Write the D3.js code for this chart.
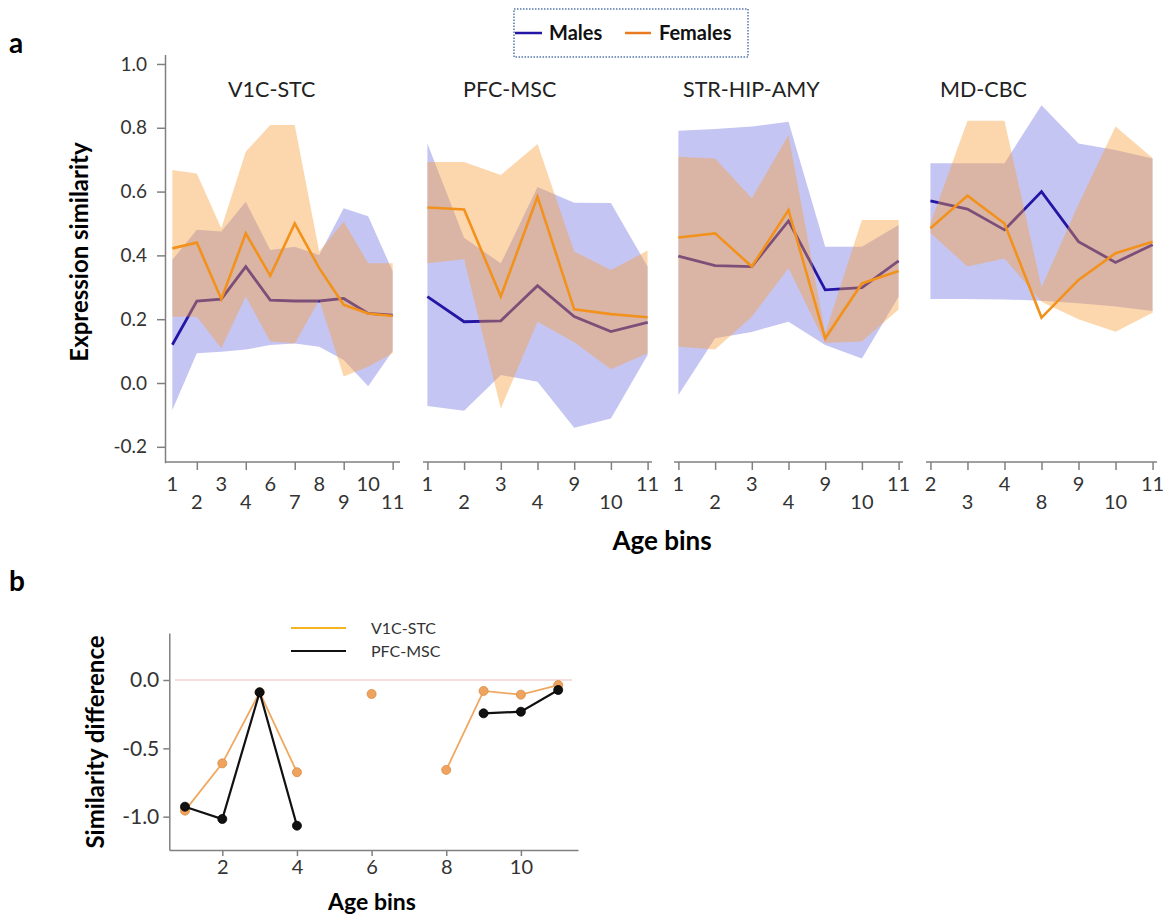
<!DOCTYPE html>
<meta charset="utf-8">
<html>
<head>
  <title>Expression similarity by age bins</title>
  <script src="https://cdn.jsdelivr.net/npm/d3@7"></script>
  <style>
    body { margin: 0; background: #fff; }
    text { font-family: Lato, "Open Sans", sans-serif; }
    .tick text { font-size: 19px; fill: #333; }
    .axis path, .axis line { stroke: #808080; stroke-width: 1.5px; }
  </style>
</head>
<body>
  <svg id="svg" width="1170" height="915"></svg>

  <script>
    // ---- panel a data ----
    var panelNames = ["V1C-STC", "PFC-MSC", "STR-HIP-AMY", "MD-CBC"];

    var binsV1C = [1, 2, 3, 4, 6, 7, 8, 9, 10, 11];
    var maleV1C = [0.12, 0.257, 0.263, 0.365, 0.26, 0.257, 0.257, 0.265, 0.218, 0.213];
    var maleLoV1C = [-0.085, 0.093, 0.098, 0.105, 0.119, 0.124, 0.114, 0.072, -0.01, 0.10];
    var maleHiV1C = [0.386, 0.48, 0.475, 0.568, 0.417, 0.427, 0.401, 0.548, 0.523, 0.35];
    var femaleV1C = [0.422, 0.44, 0.263, 0.469, 0.336, 0.50, 0.36, 0.245, 0.218, 0.21];
    var femaleLoV1C = [0.208, 0.208, 0.109, 0.271, 0.13, 0.124, 0.26, 0.02, 0.051, 0.093];
    var femaleHiV1C = [0.668, 0.657, 0.485, 0.725, 0.809, 0.809, 0.412, 0.506, 0.375, 0.375];

    var binsPFC = [1, 2, 3, 4, 9, 10, 11];
    var malePFC = [0.271, 0.192, 0.195, 0.305, 0.208, 0.161, 0.19];
    var maleLoPFC = [-0.072, -0.087, 0.025, 0.004, -0.14, -0.111, 0.088];
    var maleHiPFC = [0.751, 0.455, 0.375, 0.614, 0.565, 0.564, 0.365];
    var femalePFC = [0.55, 0.544, 0.271, 0.584, 0.231, 0.216, 0.206];
    var femaleLoPFC = [0.375, 0.388, -0.08, 0.192, 0.128, 0.043, 0.093];
    var femaleHiPFC = [0.693, 0.693, 0.652, 0.749, 0.412, 0.354, 0.415];

    var binsSTR = [1, 2, 3, 4, 9, 10, 11];
    var maleSTR = [0.398, 0.368, 0.365, 0.508, 0.292, 0.299, 0.383];
    var maleLoSTR = [-0.038, 0.14, 0.16, 0.192, 0.119, 0.077, 0.27];
    var maleHiSTR = [0.791, 0.796, 0.804, 0.819, 0.427, 0.427, 0.495];
    var femaleSTR = [0.456, 0.469, 0.365, 0.542, 0.14, 0.312, 0.351];
    var femaleLoSTR = [0.114, 0.105, 0.208, 0.36, 0.125, 0.13, 0.23];
    var femaleHiSTR = [0.709, 0.704, 0.579, 0.777, 0.156, 0.511, 0.511];

    var binsMD = [2, 3, 4, 8, 9, 10, 11];
    var maleMD = [0.571, 0.545, 0.48, 0.6, 0.443, 0.378, 0.433];
    var maleLoMD = [0.263, 0.263, 0.262, 0.258, 0.25, 0.24, 0.226];
    var maleHiMD = [0.689, 0.689, 0.689, 0.871, 0.751, 0.73, 0.704];
    var femaleMD = [0.485, 0.587, 0.5, 0.205, 0.323, 0.407, 0.443];
    var femaleLoMD = [0.47, 0.365, 0.39, 0.255, 0.2, 0.161, 0.22];
    var femaleHiMD = [0.5, 0.822, 0.822, 0.3, 0.56, 0.804, 0.705];

    var yTicksA = [-0.2, 0, 0.2, 0.4, 0.6, 0.8, 1.0];

    // ---- panel b data ----
    var binsB = [1, 2, 3, 4, 5, 6, 7, 8, 9, 10, 11];
    var diffV1C = [-0.956, -0.61, -0.09, -0.675, null, -0.102, null, -0.658, -0.08, -0.107, -0.037];
    var diffPFC = [-0.927, -1.017, -0.09, -1.066, null, null, null, null, -0.244, -0.232, -0.073];
    var xTicksB = [2, 4, 6, 8, 10];
    var yTicksB = [-1.0, -0.5, 0.0];

    var maleColor = "#2416a4";
    var femaleColor = "#f2921c";

    var svg = d3.select("#svg");

    // panel placement (pixels), kept apart from the data
    var layout = [
      { x0: 165, x1: 400, pad: 0.3, titleX: 228, every: 2 },
      { x0: 423, x1: 652, pad: 0.12, titleX: 463, every: 1 },
      { x0: 674, x1: 903, pad: 0.12, titleX: 683, every: 1 },
      { x0: 926, x1: 1157, pad: 0.12, titleX: 940, every: 1 }
    ];

    var panels = [
      { bins: binsV1C, m: maleV1C, mLo: maleLoV1C, mHi: maleHiV1C, f: femaleV1C, fLo: femaleLoV1C, fHi: femaleHiV1C },
      { bins: binsPFC, m: malePFC, mLo: maleLoPFC, mHi: maleHiPFC, f: femalePFC, fLo: femaleLoPFC, fHi: femaleHiPFC },
      { bins: binsSTR, m: maleSTR, mLo: maleLoSTR, mHi: maleHiSTR, f: femaleSTR, fLo: femaleLoSTR, fHi: femaleHiSTR },
      { bins: binsMD, m: maleMD, mLo: maleLoMD, mHi: maleHiMD, f: femaleMD, fLo: femaleLoMD, fHi: femaleHiMD }
    ];

    var y = d3.scaleLinear().domain([-0.25, 1.03]).range([462.75, 54.4]);

    // y axis, only on the first panel
    svg.append("g")
      .attr("class", "axis")
      .attr("transform", "translate(165,0)")
      .call(d3.axisLeft(y).tickValues(yTicksA).tickSize(8).tickSizeOuter(0).tickPadding(10)
        .tickFormat(function (d) { return d.toFixed(1); }));

    panels.forEach(function (p, k) {
      var L = layout[k];
      var x = d3.scalePoint().domain(p.bins).range([L.x0, L.x1]).padding(L.pad);
      var g = svg.append("g");

      var rows = p.bins.map(function (b, i) {
        return { b: b, m: p.m[i], mLo: p.mLo[i], mHi: p.mHi[i], f: p.f[i], fLo: p.fLo[i], fHi: p.fHi[i] };
      });

      var areaM = d3.area().x(function (d) { return x(d.b); })
        .y0(function (d) { return y(d.mLo); }).y1(function (d) { return y(d.mHi); });
      var areaF = d3.area().x(function (d) { return x(d.b); })
        .y0(function (d) { return y(d.fLo); }).y1(function (d) { return y(d.fHi); });
      var lineM = d3.line().x(function (d) { return x(d.b); }).y(function (d) { return y(d.m); });
      var lineF = d3.line().x(function (d) { return x(d.b); }).y(function (d) { return y(d.f); });

      g.append("path").datum(rows).attr("d", areaM)
        .attr("fill", "#5a5adc").attr("fill-opacity", 0.35);
      g.append("path").datum(rows).attr("d", lineM)
        .attr("fill", "none").attr("stroke", maleColor).attr("stroke-width", 2.8);
      g.append("path").datum(rows).attr("d", areaF)
        .attr("fill", "#f8a03c").attr("fill-opacity", 0.42);
      g.append("path").datum(rows).attr("d", lineF)
        .attr("fill", "none").attr("stroke", femaleColor).attr("stroke-width", 2.6);

      // x axis with two staggered label rows
      var tickBins = p.bins.filter(function (b, i) { return L.every === 1 || i % 2 === 1; });
      svg.append("g")
        .attr("class", "axis")
        .attr("transform", "translate(0,462)")
        .call(d3.axisBottom(x).tickValues(tickBins).tickSize(8).tickSizeOuter(0).tickFormat(""))
        .select(".domain").attr("d", "M" + L.x0 + ",0H" + L.x1);

      svg.append("g").selectAll("text")
        .data(p.bins)
        .enter()
        .append("text")
        .attr("x", function (d) { return x(d); })
        .attr("y", function (d, i) { return i % 2 === 0 ? 491 : 509; })
        .attr("text-anchor", "middle")
        .attr("font-size", 20)
        .attr("fill", "#333")
        .text(function (d) { return d; });

      svg.append("text")
        .attr("x", L.titleX)
        .attr("y", 97)
        .attr("font-size", 21.5)
        .attr("fill", "#222")
        .text(panelNames[k]);
    });

    // panel a labels
    svg.append("text").attr("x", 9).attr("y", 53)
      .attr("font-size", 28).attr("font-weight", "bold").text("a");
    svg.append("text")
      .attr("transform", "translate(88,252) rotate(-90)")
      .attr("text-anchor", "middle")
      .attr("font-size", 24).attr("font-weight", "bold")
      .text("Expression similarity");
    svg.append("text").attr("x", 662).attr("y", 550)
      .attr("text-anchor", "middle")
      .attr("font-size", 26).attr("font-weight", "bold")
      .text("Age bins");

    // legend with dotted frame
    var leg = svg.append("g");
    leg.append("rect").attr("x", 514).attr("y", 9).attr("width", 234).attr("height", 48)
      .attr("fill", "none").attr("stroke", "#5577aa").attr("stroke-width", 1.5)
      .attr("stroke-dasharray", "1.5,1.5");
    leg.append("line").attr("x1", 515).attr("x2", 542).attr("y1", 33).attr("y2", 33)
      .attr("stroke", maleColor).attr("stroke-width", 2.5);
    leg.append("text").attr("x", 549).attr("y", 40).attr("font-size", 20)
      .attr("font-weight", "bold").attr("fill", "#111").text("Males");
    leg.append("line").attr("x1", 625).attr("x2", 651).attr("y1", 33).attr("y2", 33)
      .attr("stroke", "#e87a20").attr("stroke-width", 2.5);
    leg.append("text").attr("x", 659).attr("y", 40).attr("font-size", 20)
      .attr("font-weight", "bold").attr("fill", "#111").text("Females");

    // ---- panel b ----
    var xb = d3.scaleLinear().domain([0.58, 11.53]).range([169.3, 578]);
    var yb = d3.scaleLinear().domain([-1.244, 0.344]).range([850, 633]);

    svg.append("text").attr("x", 9).attr("y", 591)
      .attr("font-size", 28).attr("font-weight", "bold").text("b");

    svg.append("line")
      .attr("x1", 175).attr("x2", 572).attr("y1", yb(0)).attr("y2", yb(0))
      .attr("stroke", "#f0d2d2").attr("stroke-width", 1.5);

    svg.append("g").attr("class", "axis")
      .attr("transform", "translate(169.3,0)")
      .call(d3.axisLeft(yb).tickValues(yTicksB).tickSize(6).tickSizeOuter(0).tickPadding(4)
        .tickFormat(function (d) { return d.toFixed(1); }))
      .selectAll("text").style("font-size", "21px");
    svg.append("g").attr("class", "axis")
      .attr("transform", "translate(0,850)")
      .call(d3.axisBottom(xb).tickValues(xTicksB).tickSize(6).tickSizeOuter(0).tickPadding(4))
      .selectAll("text").style("font-size", "20px");

    var seriesB = [
      { vals: diffV1C, line: "#f0a860", fill: "#eea45e", edge: "#d98a40", w: 1.8 },
      { vals: diffPFC, line: "#111", fill: "#111", edge: "#000", w: 2.2 }
    ];
    seriesB.forEach(function (s) {
      var pts = binsB.map(function (b, i) { return { b: b, v: s.vals[i] }; });
      var line = d3.line().defined(function (d) { return d.v !== null; })
        .x(function (d) { return xb(d.b); }).y(function (d) { return yb(d.v); });
      svg.append("path").datum(pts).attr("d", line)
        .attr("fill", "none").attr("stroke", s.line).attr("stroke-width", s.w);
      svg.append("g").selectAll("circle")
        .data(pts.filter(function (d) { return d.v !== null; }))
        .enter()
        .append("circle")
        .attr("cx", function (d) { return xb(d.b); })
        .attr("cy", function (d) { return yb(d.v); })
        .attr("r", 4.5)
        .attr("fill", s.fill)
        .attr("stroke", s.edge)
        .attr("stroke-width", 0.8);
    });

    // panel b legend
    svg.append("line").attr("x1", 291).attr("x2", 346).attr("y1", 628).attr("y2", 628)
      .attr("stroke", "#f6b422").attr("stroke-width", 2);
    svg.append("text").attr("x", 371).attr("y", 634).attr("font-size", 16)
      .attr("fill", "#333").text("V1C-STC");
    svg.append("line").attr("x1", 291).attr("x2", 346).attr("y1", 651).attr("y2", 651)
      .attr("stroke", "#111").attr("stroke-width", 2);
    svg.append("text").attr("x", 371).attr("y", 657).attr("font-size", 16)
      .attr("fill", "#333").text("PFC-MSC");

    svg.append("text")
      .attr("transform", "translate(104,742) rotate(-90)")
      .attr("text-anchor", "middle")
      .attr("font-size", 24).attr("font-weight", "bold")
      .text("Similarity difference");
    svg.append("text").attr("x", 372).attr("y", 910)
      .attr("text-anchor", "middle")
      .attr("font-size", 23).attr("font-weight", "bold")
      .text("Age bins");
  </script>
</body>
</html>
